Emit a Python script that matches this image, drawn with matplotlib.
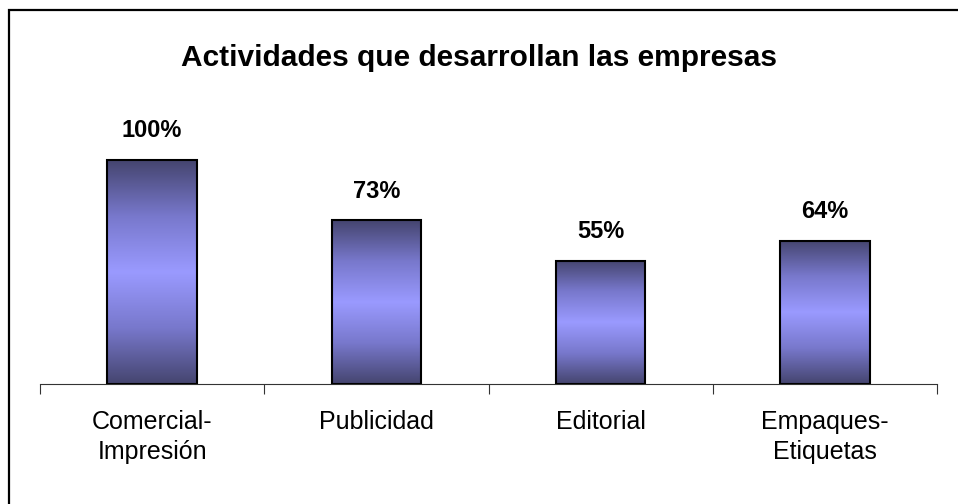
import numpy as np
import matplotlib
matplotlib.use('Agg')
import matplotlib.pyplot as plt
from matplotlib.colors import LinearSegmentedColormap
from matplotlib.patches import Rectangle

categories = ['Comercial-\nImpresión', 'Publicidad', 'Editorial', 'Empaques-\nEtiquetas']
values = [1.00, 0.73, 0.55, 0.64]
labels = ['100%', '73%', '55%', '64%']
title = 'Actividades que desarrollan las empresas'

plt.rcParams['font.family'] = ['Liberation Sans', 'DejaVu Sans']

fig = plt.figure(figsize=(9.58, 5.04), dpi=100)
W, H = 958, 504

# outer frame of the chart area
fig.patches.append(Rectangle((9 / W, -0.05), 1.2, (H - 10) / H + 0.05, transform=fig.transFigure,
                             fill=False, edgecolor='black', linewidth=1.6))

ax = fig.add_axes([40 / W, (H - 384) / H, 897 / W, 284 / H])

# dark - light - dark vertical gradient like the original fill
grad = LinearSegmentedColormap.from_list('bar', ['#45456f', '#7878cc', '#9a9aff', '#7878cc', '#45456f'])
g = np.linspace(0, 1, 256).reshape(-1, 1)
width = 0.4
x = np.arange(len(categories))
for xi, v, lab in zip(x, values, labels):
    ax.imshow(g, cmap=grad, aspect='auto', extent=(xi - width / 2, xi + width / 2, 0, v),
              origin='upper', zorder=2)
    ax.bar(xi, v, width=width, fill=False, edgecolor='black', linewidth=1.5, zorder=3)
    ax.text(xi, v + 0.08, lab, ha='center', va='bottom', fontsize=17, fontweight='bold')
ax.set_xlim(-0.5, len(categories) - 0.5)
ax.set_ylim(0, 284 / 224)

for s in ['left', 'right', 'top']:
    ax.spines[s].set_visible(False)
ax.spines['bottom'].set_color('#333333')
ax.set_yticks([])
ax.set_xticks(np.arange(len(categories) + 1) - 0.5)
ax.set_xticklabels([])
ax.tick_params(axis='x', which='major', length=7, color='#333333', direction='out')
ax.set_xticks(x, minor=True)
ax.set_xticklabels(categories, minor=True, fontsize=18, linespacing=1.28)
ax.tick_params(axis='x', which='minor', length=0, pad=19)

fig.text(0.5, (H - 58) / H, title, ha='center', va='center', fontsize=21.5, fontweight='bold')

fig.savefig('out.png', dpi=100, facecolor='white')
